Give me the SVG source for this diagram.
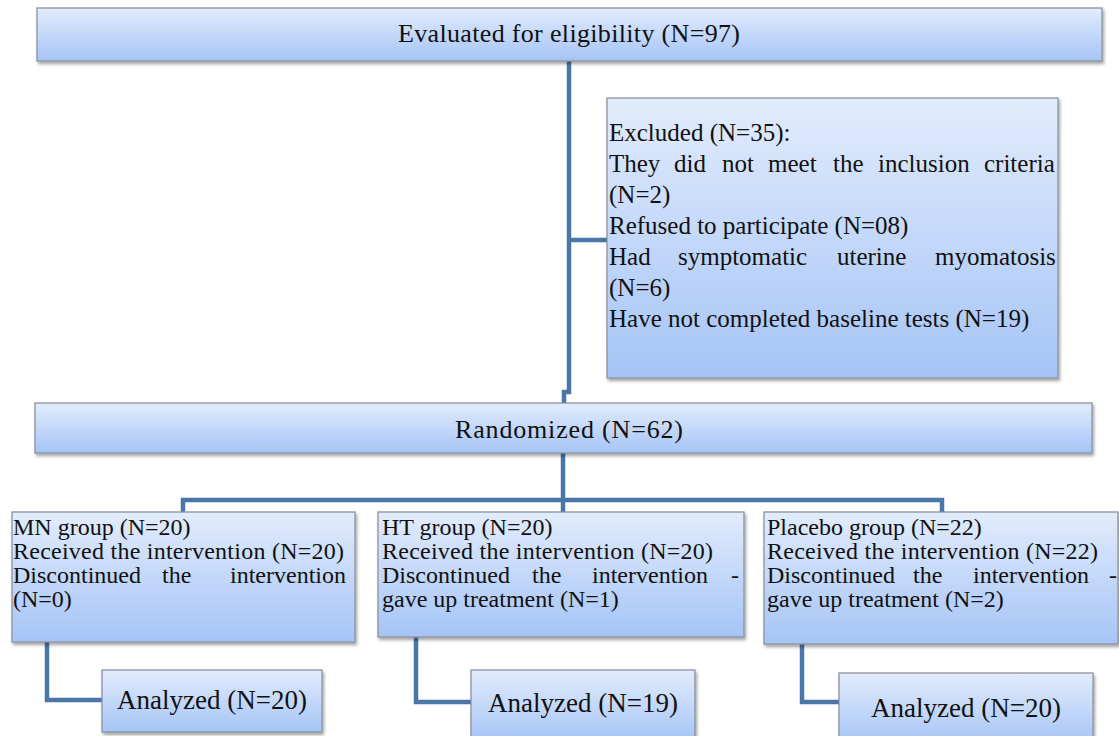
<svg xmlns="http://www.w3.org/2000/svg" width="1119" height="736" viewBox="0 0 1119 736">
<style>
.box{fill:url(#g);stroke:#8a93a0;stroke-width:1.3;filter:url(#sh)}
.t{font-family:"Liberation Serif","Times New Roman",serif;fill:#111}
.c{fill:none;stroke:#4a76a8;stroke-width:4.5}
</style>
<defs>
<linearGradient id="g" x1="0" y1="0" x2="0" y2="1">
<stop offset="0" stop-color="#e2ecfc"/>
<stop offset="1" stop-color="#a5c4f6"/>
</linearGradient>
<filter id="sh" x="-5%" y="-10%" width="110%" height="130%">
<feDropShadow dx="1.5" dy="2.5" stdDeviation="1.5" flood-color="#000" flood-opacity="0.35"/>
</filter>
</defs>
<rect width="1119" height="736" fill="#fff"/>
<g id="connectors">
<path class="c" d="M569,61 V392 H564 V403"/>
<path class="c" d="M569,240 H607"/>
<path class="c" d="M563,453 V500"/>
<path class="c" d="M183,512 V500 H942 V512"/>
<path class="c" d="M563,500 V512"/>
<path class="c" d="M47,642 V700 H102"/>
<path class="c" d="M416,637 V702 H471"/>
<path class="c" d="M802,644 V702 H839"/>
</g>
<g id="eval">
<rect class="box" x="37" y="8" width="1065" height="53"/>
<text class="t" x="569" y="42" font-size="26" text-anchor="middle" textLength="342">Evaluated for eligibility (N=97)</text>
</g>
<g id="excluded">
<rect class="box" x="607" y="98" width="451" height="280"/>
<g class="t" font-size="25">
<text x="609" y="141">Excluded (N=35):</text>
<text y="172"><tspan x="609">They</tspan><tspan x="674">did</tspan><tspan x="722">not</tspan><tspan x="768">meet</tspan><tspan x="833">the</tspan><tspan x="878">inclusion</tspan><tspan x="984">criteria</tspan></text>
<text x="609" y="203">(N=2)</text>
<text x="609" y="234">Refused to participate (N=08)</text>
<text y="265"><tspan x="609">Had</tspan><tspan x="678">symptomatic</tspan><tspan x="837">uterine</tspan><tspan x="935">myomatosis</tspan></text>
<text x="609" y="296">(N=6)</text>
<text x="609" y="327">Have not completed baseline tests (N=19)</text>
</g>
</g>
<g id="randomized">
<rect class="box" x="35" y="403" width="1057" height="50"/>
<text class="t" x="569" y="438" font-size="26" text-anchor="middle" textLength="228">Randomized (N=62)</text>
</g>
<g id="mn">
<rect class="box" x="12" y="512" width="343" height="130"/>
<g class="t" font-size="24">
<text x="13" y="535">MN group (N=20)</text>
<text x="13" y="559" textLength="331">Received the intervention (N=20)</text>
<text y="583"><tspan x="13">Discontinued</tspan><tspan x="162">the</tspan><tspan x="230">intervention</tspan></text>
<text x="13" y="607">(N=0)</text>
</g>
</g>
<g id="ht">
<rect class="box" x="378" y="512" width="366" height="125"/>
<g class="t" font-size="24">
<text x="382" y="535">HT group (N=20)</text>
<text x="382" y="559" textLength="331">Received the intervention (N=20)</text>
<text y="583"><tspan x="382">Discontinued</tspan><tspan x="532">the</tspan><tspan x="592">intervention</tspan><tspan x="731">-</tspan></text>
<text x="382" y="607">gave up treatment (N=1)</text>
</g>
</g>
<g id="placebo">
<rect class="box" x="764" y="512" width="354" height="132"/>
<g class="t" font-size="24">
<text x="767" y="535">Placebo group (N=22)</text>
<text x="767" y="559" textLength="331">Received the intervention (N=22)</text>
<text y="583"><tspan x="767">Discontinued</tspan><tspan x="913">the</tspan><tspan x="973">intervention</tspan><tspan x="1109">-</tspan></text>
<text x="767" y="607">gave up treatment (N=2)</text>
</g>
</g>
<g id="an-mn">
<rect class="box" x="102" y="670" width="220" height="62"/>
<text class="t" x="212" y="709" font-size="27" text-anchor="middle">Analyzed (N=20)</text>
</g>
<g id="an-ht">
<rect class="box" x="471" y="670" width="224" height="72"/>
<text class="t" x="583" y="712" font-size="27" text-anchor="middle">Analyzed (N=19)</text>
</g>
<g id="an-pl">
<rect class="box" x="839" y="673" width="254" height="72"/>
<text class="t" x="966" y="717" font-size="27" text-anchor="middle">Analyzed (N=20)</text>
</g>
</svg>
